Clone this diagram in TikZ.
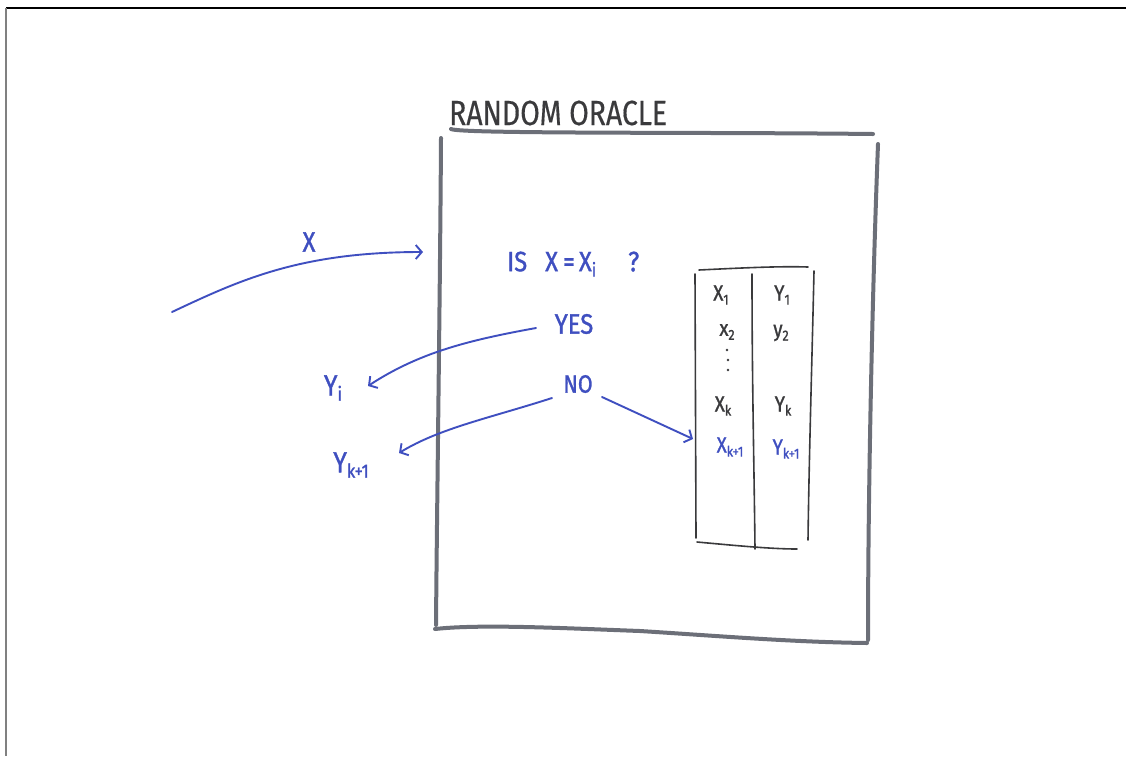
\documentclass[tikz,border=0pt]{standalone}
\usepackage{fontspec}
\usepackage{graphicx}
\usetikzlibrary{arrows.meta}
\newfontfamily\hand[FakeStretch=0.85,FakeBold=1.2]{Fira Sans}
\newfontfamily\handtitle[FakeStretch=0.81,FakeBold=0.4]{Fira Sans}
\newcommand\lowidx[1]{\raisebox{-0.35ex}{\scalebox{0.66}{#1}}}
\definecolor{inkblue}{HTML}{3F4FC0}
\definecolor{markergray}{HTML}{6C6F78}
\definecolor{penink}{HTML}{3A3A3C}
\begin{document}
\begin{tikzpicture}[x=1pt,y=-1pt,
  hand/.style={font=\hand, inner sep=0pt, text=penink},
  bluehand/.style={font=\hand, inner sep=0pt, text=inkblue},
  marker/.style={draw=markergray, line width=4pt, line cap=round, line join=round},
  pen/.style={draw=penink, line width=1.6pt, line cap=round},
  bluearrow/.style={draw=inkblue, line width=1.9pt, line cap=round,
    -{Straight Barb[length=6pt,width=14pt,line width=1.9pt]}}]
\useasboundingbox (0,0) rectangle (1126,756);
\fill[white] (0,0) rectangle (1126,756);

% page frame
\draw[black, line width=1.3pt] (6,8) -- (1126,8);
\draw[gray, line width=2pt] (6,8) -- (6,756);

% title and oracle box
\node[hand, font=\handtitle\fontsize{35}{35}\selectfont, anchor=west] (title) at (449,113) {RANDOM ORACLE};
\coordinate (tl) at (451,129);
\coordinate (tr) at (873,134);
\coordinate (lt) at (441,138);
\coordinate (lb) at (436,625);
\coordinate (bl) at (435,629);
\coordinate (br) at (867,643);
\coordinate (rt) at (878,144);
\coordinate (rb) at (868,640);
\draw[marker] (tl) .. controls (460,134) and (700,132) .. (tr);
\draw[marker] (lt) .. controls (440,300) and (437,500) .. (lb);
\draw[marker] (bl) .. controls (480,624) and (560,628) .. (640,631)
  .. controls (720,636) and (790,642) .. (br);
\draw[marker] (rt) .. controls (872,300) and (868,500) .. (rb);

% lookup table
\coordinate (t1) at (695,274);
\coordinate (t2) at (696,538);
\coordinate (t3) at (699,270);
\coordinate (t4) at (808,267);
\coordinate (t5) at (814,271);
\coordinate (t6) at (808,540);
\coordinate (t7) at (697,542);
\coordinate (t8) at (797,549);
\coordinate (t9) at (752,274);
\coordinate (t10) at (755,549);
\draw[pen] (t1) -- (t2);
\draw[pen] (t3) .. controls (740,268) and (780,266) .. (t4);
\draw[pen] (t5) .. controls (812,360) and (809,460) .. (t6);
\draw[pen] (t7) .. controls (730,545) and (770,549) .. (t8);
\draw[pen] (t9) .. controls (752,380) and (754,460) .. (t10);

\node[hand, font=\hand\fontsize{22}{22}\selectfont] (x1) at (721,295) {X\lowidx{1}};
\node[hand, font=\hand\fontsize{22}{22}\selectfont] (y1) at (782,295) {Y\lowidx{1}};
\node[hand, font=\hand\fontsize{22}{22}\selectfont] (x2) at (727,332) {x\lowidx{2}};
\node[hand, font=\hand\fontsize{22}{22}\selectfont] (y2) at (781,333) {y\lowidx{2}};
\fill[penink] (727,350) circle (1.4pt) (728,360) circle (1.4pt) (728,370) circle (1.4pt);
\node[hand, font=\hand\fontsize{22}{22}\selectfont] (xk) at (723,406) {X\lowidx{k}};
\node[hand, font=\hand\fontsize{22}{22}\selectfont] (yk) at (783,406) {Y\lowidx{k}};
\node[bluehand, font=\hand\fontsize{22}{22}\selectfont] (xk1) at (730,447) {X\lowidx{k+1}};
\node[bluehand, font=\hand\fontsize{22}{22}\selectfont] (yk1) at (786,449) {Y\lowidx{k+1}};

% query and answers
\node[bluehand, font=\hand\fontsize{28}{28}\selectfont, anchor=west] (query) at (507,264)
  {IS\hspace{18pt}X\hspace{5pt}=\hspace{4pt}X\lowidx{i}\hspace{32pt}?};
\node[bluehand, font=\hand\fontsize{28}{28}\selectfont] (yes) at (574,324) {YES};
\node[bluehand, font=\hand\fontsize{25}{25}\selectfont] (no) at (578,384) {NO};
\node[bluehand, font=\hand\fontsize{28}{28}\selectfont] (xin) at (309,242) {X};
\node[bluehand, font=\hand\fontsize{29}{29}\selectfont] (yi) at (333,388) {Y\lowidx{i}};
\node[bluehand, font=\hand\fontsize{29}{29}\selectfont] (ynew) at (351,465) {Y\lowidx{k+1}};

% connector end points
\coordinate (xstart) at (172,312);
\coordinate (xend) at (423,252);
\coordinate (yesout) at (536,328);
\coordinate (yiin) at (368,386);
\coordinate (noleft) at (552,398);
\coordinate (ynewin) at (399,453);
\coordinate (noright) at (602,397);
\coordinate (tablein) at (693,439);

\draw[bluearrow] (xstart) .. controls (240,280) and (300,252) .. (xend);
\draw[bluearrow] (yesout) .. controls (470,340) and (420,352) .. (yiin);
\draw[bluearrow] (noleft) .. controls (490,418) and (440,428) .. (ynewin);
\draw[bluearrow] (noright) -- (tablein);
\end{tikzpicture}
\end{document}
